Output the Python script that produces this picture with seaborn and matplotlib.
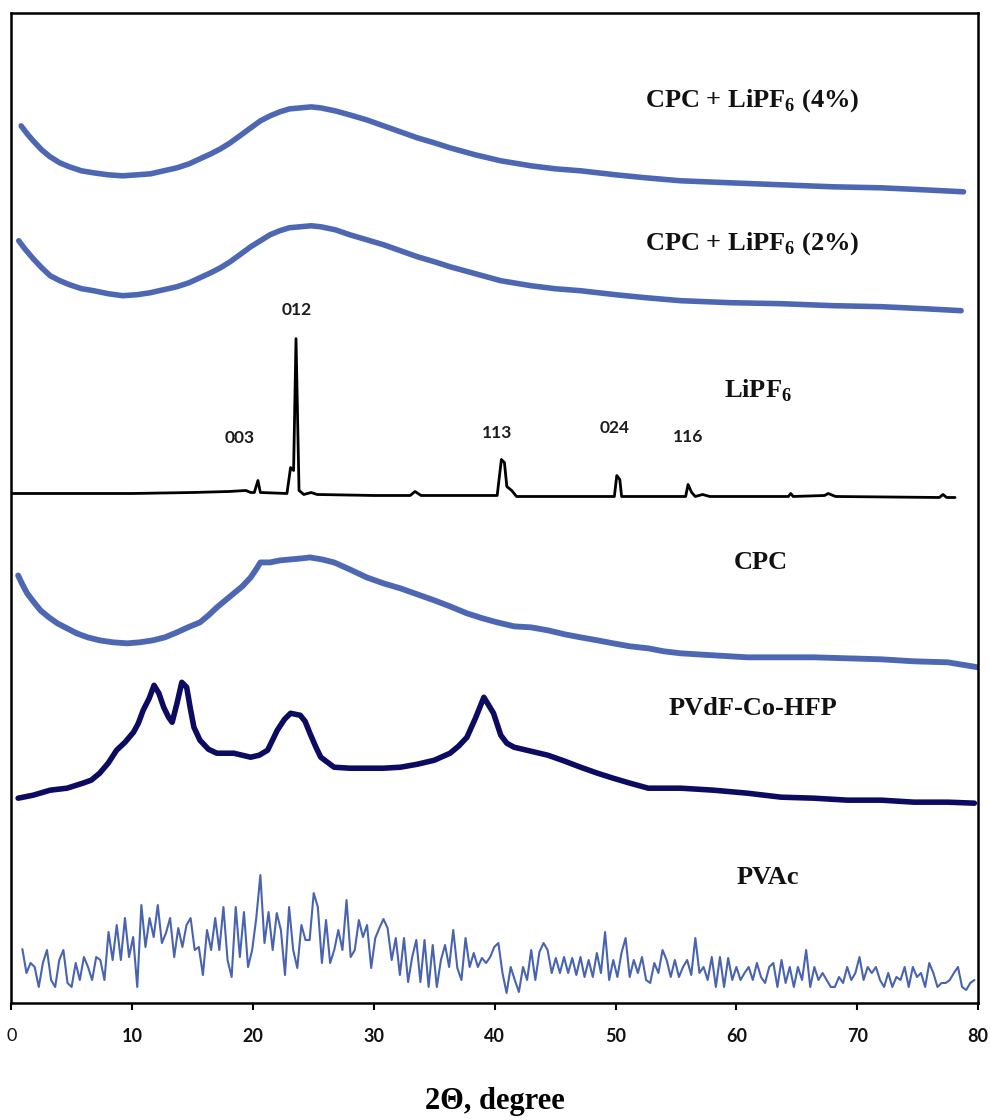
import numpy as np
import pandas as pd
import matplotlib
matplotlib.use("Agg")
import matplotlib.pyplot as plt
import seaborn as sns

# ---- XRD patterns: 2-theta (deg) and intensity (a.u., above each trace's own baseline) ----
cpc4_2theta = [0.8, 1.3, 1.8, 2.5, 3.2, 4.0, 4.8, 5.8, 6.8, 8.0, 9.2, 10.4, 11.5, 12.6, 13.7,
               14.7, 15.6, 16.5, 17.3, 18.1, 18.9, 19.8, 20.6, 21.4, 22.2, 23.0, 23.9, 24.8,
               25.6, 26.8, 28.0, 29.4, 30.8, 32.2, 33.6, 35.0, 36.3, 38.4, 40.5, 43.0, 45.0,
               47.1, 50.0, 52.5, 55.4, 59.5, 63.7, 68.0, 72.0, 75.5, 78.8]
cpc4_int = [78, 70, 63, 54, 47, 41, 37, 33, 31, 29, 28, 29, 30, 33, 36,
            40, 45, 50, 55, 61, 68, 76, 83, 88, 92, 95, 96, 97,
            96, 93, 89, 84, 78, 72, 66, 61, 56, 49, 43, 38, 35,
            33, 29, 26, 23, 21, 19, 17, 16, 14, 12]

cpc2_2theta = [0.6, 1.1, 1.8, 2.5, 3.2, 4.0, 4.8, 5.8, 6.8, 8.0, 9.2, 10.4, 11.5, 12.6, 13.7,
               14.7, 15.6, 16.5, 17.3, 18.1, 18.9, 19.8, 20.6, 21.4, 22.2, 23.0, 23.9, 24.8,
               25.6, 26.8, 28.0, 29.4, 30.8, 32.2, 33.6, 35.0, 36.3, 38.4, 40.5, 43.0, 45.0,
               47.1, 50.0, 52.5, 55.4, 59.5, 63.7, 68.0, 72.0, 75.5, 78.6]
cpc2_int = [83, 75, 65, 56, 48, 43, 39, 35, 33, 30, 28, 29, 31, 34, 37,
            41, 46, 51, 56, 62, 69, 77, 83, 89, 93, 96, 97, 98,
            97, 94, 89, 84, 79, 73, 67, 62, 57, 50, 43, 38, 35,
            33, 29, 26, 23, 21, 20, 18, 17, 15, 13]

lipf6_2theta = [0.0, 5.0, 10.0, 15.0, 18.0, 19.4, 19.8, 20.1, 20.4, 20.6, 22.8, 23.1, 23.35, 23.55,
                23.8, 24.2, 24.8, 25.3, 30.0, 33.0, 33.4, 33.9, 38.0, 40.2, 40.55, 40.8, 41.0,
                41.4, 41.8, 45.0, 49.9, 50.1, 50.35, 50.5, 55.8, 56.0, 56.3, 56.6, 57.2, 57.8,
                64.3, 64.5, 64.7, 67.3, 67.6, 68.2, 76.8, 77.1, 77.4, 78.1]
lipf6_int = [10, 10, 10, 11, 12, 13, 11, 11, 23, 11, 10, 36, 33, 165,
             13, 9, 11, 9, 8, 8, 12, 8, 8, 8, 44, 41, 17,
             13, 7, 7, 7, 28, 24, 7, 7, 19, 11, 7, 9, 7,
             7, 10, 7, 8, 10, 7, 6, 9, 6, 6]

cpc_2theta = [0.55, 0.9, 1.3, 1.8, 2.4, 3.1, 3.8, 4.6, 5.4, 6.3, 7.3, 8.4, 9.6, 10.6, 11.7,
              12.7, 13.7, 14.6, 15.6, 16.3, 17.0, 17.7, 18.4, 19.1, 19.8, 20.3, 20.6, 21.4,
              22.2, 23.1, 24.0, 24.7, 25.7, 26.7, 28.0, 29.4, 30.8, 32.2, 33.6, 35.0, 36.3,
              37.7, 39.0, 40.2, 41.6, 43.0, 44.4, 45.8, 47.1, 48.5, 49.8, 51.2, 52.7, 54.0,
              55.4, 58.1, 60.9, 63.7, 66.4, 69.2, 72.0, 74.7, 77.5, 80.0]
cpc_int = [108, 99, 90, 82, 73, 66, 60, 55, 50, 46, 43, 41, 40, 41, 43,
           46, 51, 56, 61, 68, 76, 83, 90, 97, 106, 115, 121, 121,
           123, 124, 125, 126, 124, 121, 114, 106, 100, 95, 89, 83, 77,
           70, 65, 61, 57, 56, 53, 49, 46, 43, 40, 37, 35, 32,
           30, 28, 26, 26, 26, 25, 24, 22, 21, 16]

pvdf_2theta = [0.55, 1.8, 3.2, 4.6, 5.9, 6.6, 7.3, 8.0, 8.7, 9.4, 10.1, 10.5, 10.9, 11.4,
               11.8, 12.2, 12.6, 13.0, 13.3, 13.7, 14.1, 14.5, 14.8, 15.1, 15.6, 16.3, 17.0,
               18.4, 19.8, 20.5, 21.2, 22.0, 22.6, 23.1, 23.9, 24.3, 24.7, 25.2, 25.6, 26.7,
               28.0, 29.4, 30.8, 32.2, 33.6, 35.0, 36.3, 37.0, 37.7, 38.4, 39.1, 39.5, 39.9,
               40.5, 41.0, 41.6, 43.0, 44.4, 45.8, 47.1, 48.5, 49.8, 51.2, 52.7, 55.4, 58.1,
               60.9, 63.7, 66.4, 69.2, 72.0, 74.7, 77.5, 79.7]
pvdf_int = [15, 18, 23, 25, 30, 33, 40, 50, 63, 71, 81, 90, 103, 115,
            128, 120, 106, 96, 91, 110, 131, 126, 105, 86, 73, 64, 60,
            60, 56, 58, 63, 83, 94, 100, 98, 92, 80, 66, 56, 46,
            45, 45, 45, 46, 49, 53, 60, 67, 76, 95, 116, 108, 100,
            78, 70, 66, 62, 58, 52, 46, 40, 35, 30, 25, 25, 23,
            20, 16, 15, 13, 13, 11, 11, 10]

# PVAc: scan from 0.9 to 79.7 deg at a constant step
pvac_start, pvac_stop = 0.9, 79.7
pvac_int = [54, 30, 40, 36, 16, 40, 53, 23, 16, 43, 53, 20, 16, 40, 23, 46, 36, 23, 46, 43,
            23, 71, 43, 78, 43, 85, 46, 66, 16, 98, 56, 85, 66, 98, 60, 70, 85, 46, 75, 56,
            78, 85, 53, 56, 28, 73, 53, 85, 53, 96, 43, 26, 96, 46, 91, 36, 53, 85, 128, 60,
            91, 53, 90, 73, 28, 96, 53, 35, 78, 63, 63, 110, 96, 40, 83, 40, 53, 73, 53, 103,
            46, 53, 83, 66, 78, 35, 65, 75, 84, 75, 43, 65, 28, 65, 21, 46, 63, 21, 63, 16,
            58, 16, 43, 58, 36, 73, 35, 23, 65, 36, 50, 36, 45, 40, 46,
            56, 60, 30, 10, 36, 23, 11, 36, 23, 53, 23, 51, 60, 53, 30, 45, 30, 46, 30,
            45, 28, 46, 26, 43, 26, 50, 30, 71, 23, 43, 26, 50, 65, 26, 43, 30, 46, 23, 20,
            40, 30, 53, 43, 26, 43, 26, 36, 43, 28, 65, 30, 36, 23, 46, 16, 46, 16, 45, 23,
            36, 23, 30, 36, 23, 40, 26, 20, 36, 40, 16, 43, 20, 36, 16, 36, 23, 53, 16, 36,
            23, 30, 23, 16, 16, 26, 20, 36, 23, 30, 46, 23, 36, 30, 36, 23, 16, 30, 16, 26,
            23, 36, 16, 36, 26, 30, 16, 40, 30, 16, 20, 20, 23, 30, 36, 16, 13, 20, 23]
pvac_2theta = np.linspace(pvac_start, pvac_stop, len(pvac_int))

# vertical stacking offset of each pattern (a.u.)
sample_names = ["CPC + LiPF$_\\mathregular{6}$ (4%)", "CPC + LiPF$_\\mathregular{6}$ (2%)",
                "LiPF$_\\mathregular{6}$", "CPC", "PVdF-Co-HFP", "PVAc"]
stack_offsets = [800, 680, 500, 320, 190, 0]

# Miller indices of the LiPF6 reflections
hkl_labels = ["003", "012", "113", "024", "116"]
hkl_2theta = [18.9, 23.6, 40.2, 49.9, 56.0]
hkl_height = [66, 194, 71, 76, 67]

series = [
    (cpc4_2theta, cpc4_int, "#4d67b3", 4.0),
    (cpc2_2theta, cpc2_int, "#4d67b3", 4.0),
    (lipf6_2theta, lipf6_int, "#000000", 2.0),
    (cpc_2theta, cpc_int, "#4d67b3", 4.2),
    (pvdf_2theta, pvdf_int, "#0b0b62", 4.0),
    (list(pvac_2theta), pvac_int, "#4863b0", 1.5),
]

frames = []
for name, off, (tt, inten, _, _) in zip(sample_names, stack_offsets, series):
    frames.append(pd.DataFrame({"two_theta": tt,
                                "intensity": np.asarray(inten, float) + off,
                                "sample": name}))
xrd = pd.concat(frames, ignore_index=True)

sns.set_theme(style="white")
plt.rcParams["font.family"] = ["Liberation Serif", "DejaVu Sans"]

fig = plt.figure(figsize=(9.9, 11.2), dpi=100)
ax = fig.add_axes([0.0116, 0.1045, 0.9763, 0.8839])

for name, (_, _, color, lw) in zip(sample_names, series):
    sub = xrd[xrd["sample"] == name]
    sns.lineplot(data=sub, x="two_theta", y="intensity", ax=ax, color=color,
                 linewidth=lw, estimator=None, sort=False, legend=False)

# sample labels on the right
label_x = [61.3, 61.3, 61.8, 62.0, 61.4, 62.6]
label_y = [903, 760, 613, 441, 295, 126]
for name, lx, ly in zip(sample_names, label_x, label_y):
    ax.text(lx, ly, name, ha="center", va="center", fontsize=19,
            fontweight="bold", family="Liberation Serif", color="#111111")

# reflection indices for LiPF6
for lab, hx, hy in zip(hkl_labels, hkl_2theta, hkl_height):
    ax.text(hx, 500 + hy, lab, ha="center", va="center", fontsize=12.5,
            fontweight="bold", family="Lato", color="#1c1c1c")

ax.set_xlim(0, 80)
ax.set_ylim(0, 991)
ax.set_yticks([])
ax.set_ylabel("")
ax.set_xticks(np.arange(0, 81, 10))
ax.set_xticklabels([str(v) for v in range(0, 81, 10)])
for lab in ax.get_xticklabels():
    lab.set_family("Lato")
    lab.set_fontweight("bold")
    lab.set_fontsize(13)
    lab.set_color("#111111")
ax.get_xticklabels()[0].set_fontweight("normal")
ax.tick_params(axis="x", direction="out", length=5, width=1.5, color="black",
               pad=13, bottom=True)
for sp in ax.spines.values():
    sp.set_visible(True)
    sp.set_color("black")
    sp.set_linewidth(1.8)

ax.set_xlabel("2\u0398, degree", fontsize=22, fontweight="bold",
              family="Liberation Serif", labelpad=30, color="black")

fig.savefig("out.png", dpi=100, facecolor="white")
